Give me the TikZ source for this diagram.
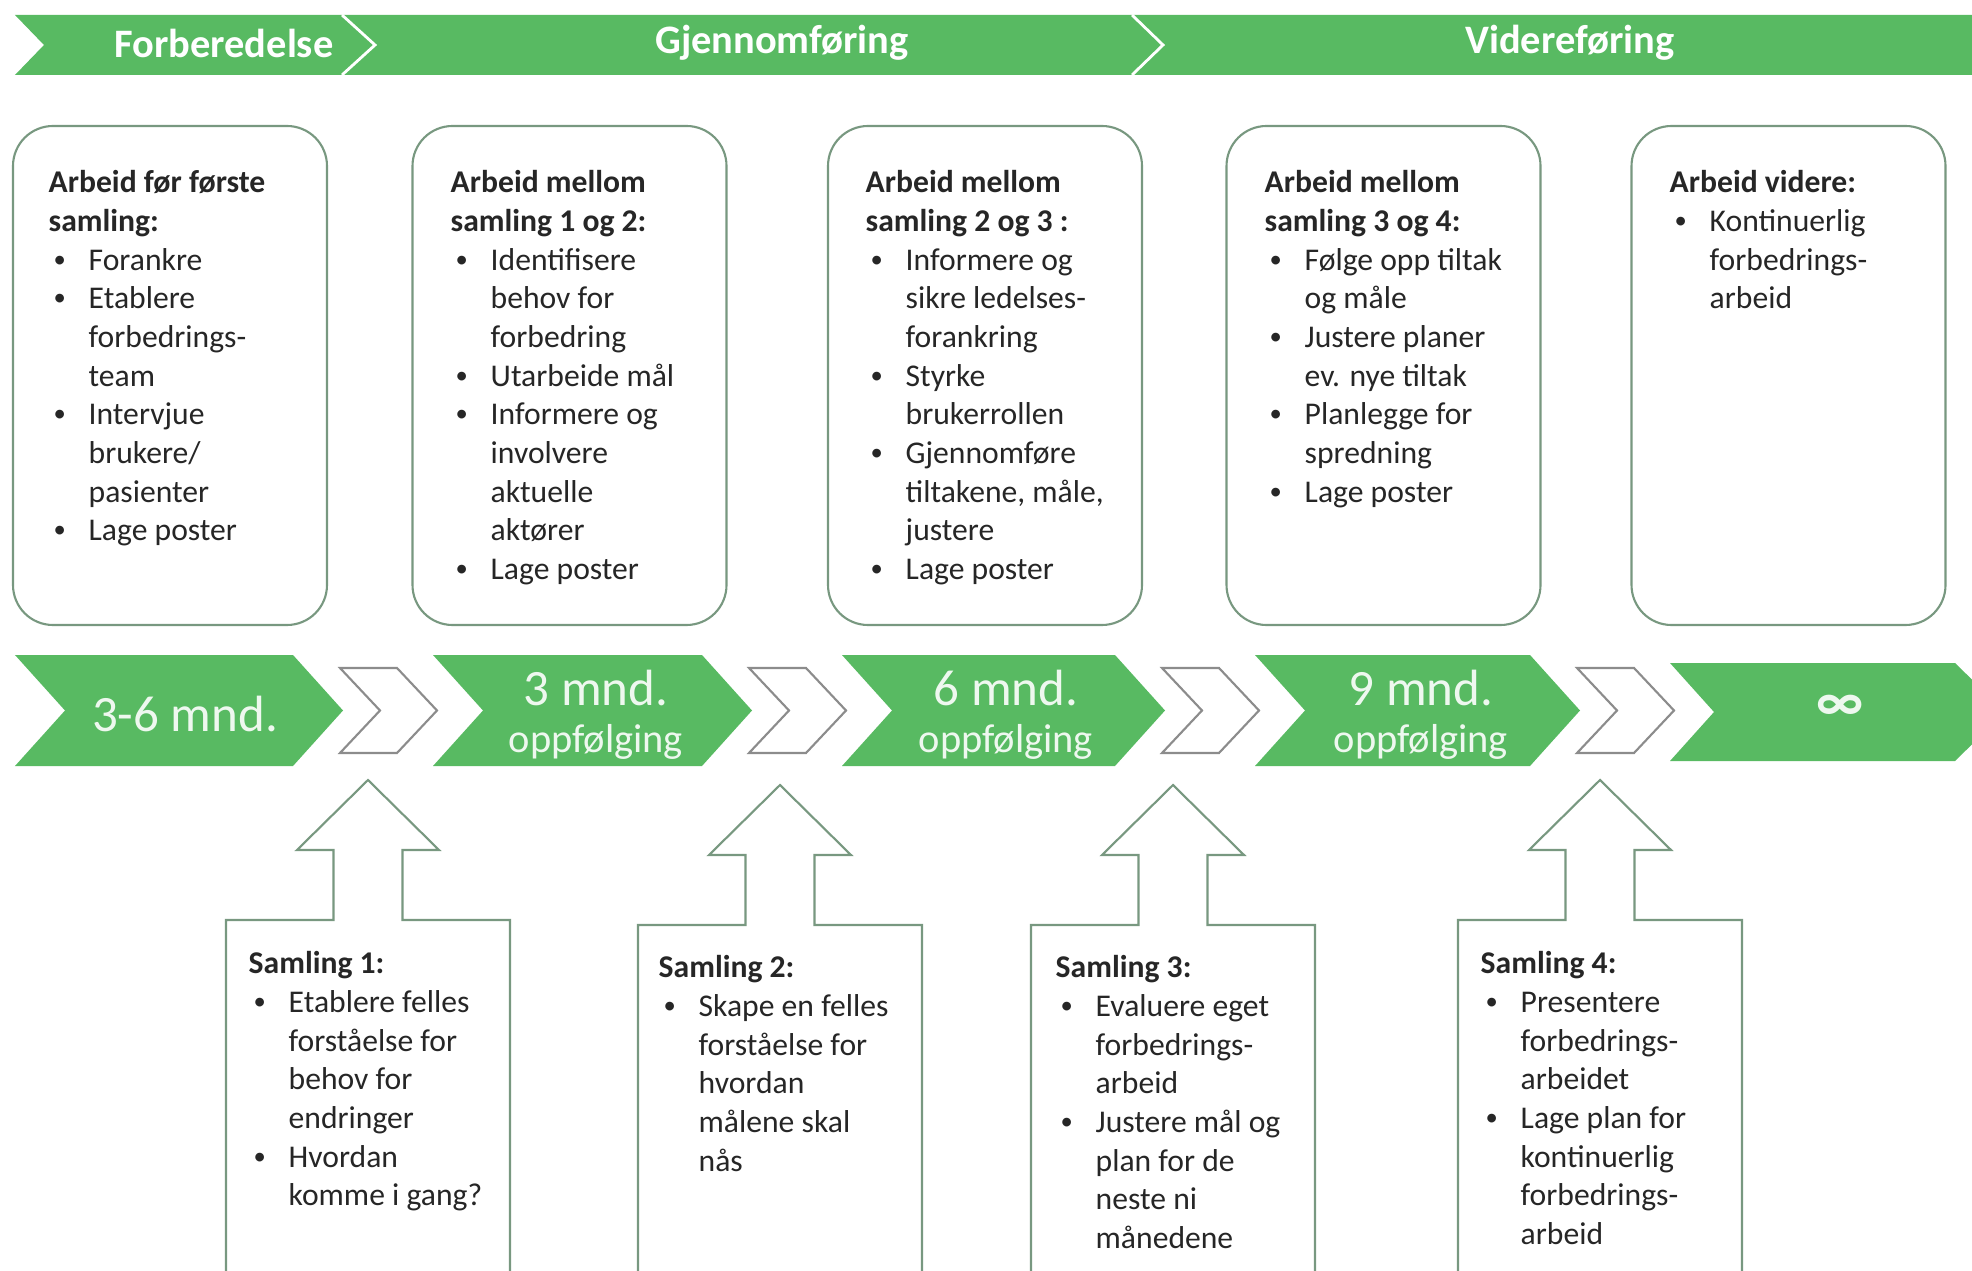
\documentclass[tikz,border=0pt]{standalone}
\usepackage{fontspec}
\setmainfont{Carlito}
\usetikzlibrary{positioning}
\definecolor{gron}{RGB}{88,186,98}
\definecolor{ramme}{RGB}{120,152,128}
\definecolor{gra}{RGB}{140,140,140}
\definecolor{tekstfarge}{RGB}{38,38,38}
\newcommand{\pkt}{\makebox[4mm][l]{\hspace{0.5mm}\raisebox{0.2ex}{\fontsize{7}{7}\selectfont•}}}
\newcommand{\inn}{\hspace*{4mm}}

\begin{document}
\begin{tikzpicture}[
    font=\fontsize{9}{11}\selectfont,
    boks/.style={draw=ramme, line width=0.6pt, rounded corners=4mm,
                 minimum width=3.14cm, minimum height=4.99cm},
    tekst/.style={anchor=north west, inner sep=0pt, align=left, text=tekstfarge},
    fase/.style={text=white, font=\fontsize{11.5}{14}\selectfont\bfseries},
    stor/.style={text=white!90!gron, font=\fontsize{14.5}{17}\selectfont},
    liten/.style={text=white!90!gron, font=\fontsize{11.5}{14}\selectfont},
    pil/.style={draw=ramme, line width=0.6pt, fill=white},
    hvitpil/.style={draw=gra, line width=0.6pt, fill=white}
  ]
  \clip (0,0) rectangle (19.72,-12.71);
  \fill[white] (0,0) rectangle (19.72,-12.71);

  % faser oeverst
  \fill[gron] (0.15,-0.15) -- (19.72,-0.15) -- (19.72,-0.75) -- (0.15,-0.75)
    -- (0.44,-0.45) -- cycle;
  \draw[white, line width=0.8pt] (3.42,-0.15) -- (3.75,-0.45) -- (3.42,-0.75);
  \draw[white, line width=0.8pt] (11.32,-0.15) -- (11.63,-0.45) -- (11.32,-0.75);
  \node[fase] (forb) at (2.24,-0.43) {Forberedelse};
  \node[fase] (gjen) at (7.82,-0.43) {Gjennomføring};
  \node[fase] (vide) at (15.70,-0.43) {Videreføring};

  % arbeid mellom samlingene
  \node[boks] (b1) at (1.70,-3.755) {};
  \node[boks] (b2) at (5.695,-3.755) {};
  \node[boks] (b3) at (9.85,-3.755) {};
  \node[boks] (b4) at (13.835,-3.755) {};
  \node[boks] (b5) at (17.885,-3.755) {};
  \node[tekst] (t1) at (0.48,-1.70) {\textbf{Arbeid før første}\\\textbf{samling:}\\
    \pkt Forankre\\\pkt Etablere\\\inn forbedrings-\\\inn team\\
    \pkt Intervjue\\\inn brukere/\\\inn pasienter\\\pkt Lage poster};
  \node[tekst] (t2) at (4.50,-1.70) {\textbf{Arbeid mellom}\\\textbf{samling 1 og 2:}\\
    \pkt Identifisere\\\inn behov for\\\inn forbedring\\\pkt Utarbeide mål\\
    \pkt Informere og\\\inn involvere\\\inn aktuelle\\\inn aktører\\\pkt Lage poster};
  \node[tekst] (t3) at (8.65,-1.70) {\textbf{Arbeid mellom}\\\textbf{samling 2 og 3 :}\\
    \pkt Informere og\\\inn sikre ledelses-\\\inn forankring\\\pkt Styrke\\
    \inn brukerrollen\\\pkt Gjennomføre\\\inn tiltakene, måle,\\\inn justere\\
    \pkt Lage poster};
  \node[tekst] (t4) at (12.64,-1.70) {\textbf{Arbeid mellom}\\\textbf{samling 3 og 4:}\\
    \pkt Følge opp tiltak\\\inn og måle\\\pkt Justere planer\\\inn ev. nye tiltak\\
    \pkt Planlegge for\\\inn spredning\\\pkt Lage poster};
  \node[tekst] (t5) at (16.69,-1.70) {\textbf{Arbeid videre:}\\
    \pkt Kontinuerlig\\\inn forbedrings-\\\inn arbeid};

  % tidslinje
  \foreach \l/\t in {0.15/3.43, 4.33/7.52, 8.42/11.65, 12.55/15.80}
    \fill[gron] (\l,-6.55) -- ({\t-0.5},-6.55) -- (\t,-7.105) -- ({\t-0.5},-7.66)
      -- (\l,-7.66) -- ({\l+0.5},-7.105) -- cycle;
  \fill[gron] (16.70,-6.63) -- (19.55,-6.63) -- (20.05,-7.12) -- (19.55,-7.61)
    -- (16.70,-7.61) -- (17.14,-7.12) -- cycle;
  \foreach \l in {3.40, 7.49, 11.62, 15.77}
    \draw[hvitpil] (\l,-6.68) -- ({\l+0.57},-6.68) -- ({\l+0.97},-7.105)
      -- ({\l+0.57},-7.53) -- (\l,-7.53) -- ({\l+0.40},-7.105) -- cycle;
  \node[stor] (m0) at (1.85,-7.14) {3-6 mnd.};
  \node[stor] (m3) at (5.96,-6.88) {3 mnd.};
  \node[liten] (o3) at (5.96,-7.42) {oppfølging};
  \node[stor] (m6) at (10.06,-6.88) {6 mnd.};
  \node[liten] (o6) at (10.06,-7.42) {oppfølging};
  \node[stor] (m9) at (14.21,-6.88) {9 mnd.};
  \node[liten] (o9) at (14.21,-7.42) {oppfølging};
  \node[stor, font=\fontsize{16}{18}\selectfont\bfseries] (uendelig) at (18.40,-7.08) {∞};

  % samlingene
  \foreach \x/\a in {3.68/0, 7.80/0.05, 11.73/0.05, 16.00/0}
    \draw[pil] ({\x-1.42},-12.9) -- ({\x-1.42},{-9.20-\a}) -- ({\x-0.345},{-9.20-\a})
      -- ({\x-0.345},{-8.50-\a}) -- ({\x-0.71},{-8.50-\a}) -- (\x,{-7.80-\a})
      -- ({\x+0.71},{-8.50-\a}) -- ({\x+0.345},{-8.50-\a}) -- ({\x+0.345},{-9.20-\a})
      -- ({\x+1.42},{-9.20-\a}) -- ({\x+1.42},-12.9);
  \node[tekst] (s1) at (2.48,-9.51) {\textbf{Samling 1:}\\
    \pkt Etablere felles\\\inn forståelse for\\\inn behov for\\\inn endringer\\
    \pkt Hvordan\\\inn komme i gang?};
  \node[tekst] (s2) at (6.58,-9.55) {\textbf{Samling 2:}\\
    \pkt Skape en felles\\\inn forståelse for\\\inn hvordan\\\inn målene skal\\\inn nås};
  \node[tekst] (s3) at (10.55,-9.55) {\textbf{Samling 3:}\\
    \pkt Evaluere eget\\\inn forbedrings-\\\inn arbeid\\\pkt Justere mål og\\
    \inn plan for de\\\inn neste ni\\\inn månedene};
  \node[tekst] (s4) at (14.80,-9.51) {\textbf{Samling 4:}\\
    \pkt Presentere\\\inn forbedrings-\\\inn arbeidet\\\pkt Lage plan for\\
    \inn kontinuerlig\\\inn forbedrings-\\\inn arbeid};
\end{tikzpicture}
\end{document}
